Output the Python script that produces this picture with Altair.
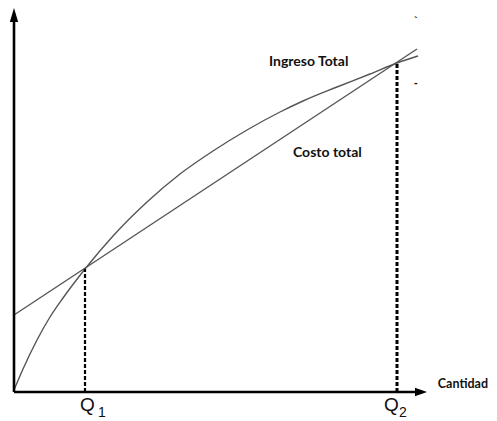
import altair as alt
import pandas as pd

# ---- data (units: quantity / value) ----
rev_q = [0, 9, 23, 36, 49, 71, 99, 133, 166, 199, 233, 266, 289, 323, 356, 383, 404]
rev_v = [2, 23, 52, 75, 94, 123, 156, 190, 218, 241, 262, 280, 291, 305, 318, 329, 336]
cost_q = [0, 403]
cost_v = [77, 343]
q_points = [71, 383]          # Q1, Q2
q_values = [123, 329]         # height of the intersections
q_names = ["Q", "Q"]
q_subs = ["1", "2"]

X_MAX, Y_MAX = 413, 382
xs = alt.Scale(domain=[0, X_MAX], nice=False, zero=False)
ys = alt.Scale(domain=[0, Y_MAX], nice=False, zero=False)

rev_df = pd.DataFrame({"q": rev_q, "v": rev_v})
cost_df = pd.DataFrame({"q": cost_q, "v": cost_v})
one = pd.DataFrame({"a": [0]})

X = lambda f: alt.X(f, type="quantitative", scale=xs, axis=None)
Y = lambda f: alt.Y(f, type="quantitative", scale=ys, axis=None)

revenue = alt.Chart(rev_df).mark_line(color="#555555", strokeWidth=1.4, interpolate="monotone").encode(
    x=X("q"), y=Y("v"))
cost = alt.Chart(cost_df).mark_line(color="#555555", strokeWidth=1.4).encode(x=X("q"), y=Y("v"))

# axes with arrowheads
yaxis = alt.Chart(one).mark_rule(color="black", strokeWidth=2.6).encode(
    x=alt.X(datum=0, scale=xs, axis=None), y=alt.Y(datum=0, scale=ys, axis=None), y2=alt.datum(372))
xaxis = alt.Chart(one).mark_rule(color="black", strokeWidth=2.6).encode(
    y=alt.Y(datum=0, scale=ys, axis=None), x=alt.X(datum=0, scale=xs, axis=None), x2=alt.datum(403))
yarrow = alt.Chart(one).mark_point(shape="M0,-1L0.6,1L-0.6,1Z", filled=True, color="black",
                                   size=196, opacity=1).encode(
    x=alt.X(datum=0, scale=xs, axis=None), y=alt.Y(datum=377, scale=ys, axis=None))
xarrow = alt.Chart(one).mark_point(shape="M1,0L-1,-0.7L-1,0.7Z", filled=True, color="black",
                                   size=144, opacity=1).encode(
    x=alt.X(datum=407, scale=xs, axis=None), y=alt.Y(datum=0, scale=ys, axis=None))

# dashed drop lines
d1 = alt.Chart(one).mark_rule(color="black", strokeWidth=2.2, strokeDash=[4, 2]).encode(
    x=alt.X(datum=q_points[0], scale=xs, axis=None), y=alt.Y(datum=0, scale=ys, axis=None),
    y2=alt.datum(q_values[0]))
d2 = alt.Chart(one).mark_rule(color="black", strokeWidth=3, strokeDash=[4, 2]).encode(
    x=alt.X(datum=q_points[1], scale=xs, axis=None), y=alt.Y(datum=0, scale=ys, axis=None),
    y2=alt.datum(q_values[1]))

def label(txt, x, y, size, font, weight="normal", align="left", baseline="middle"):
    return alt.Chart(one).mark_text(text=txt, font=font, fontSize=size, fontWeight=weight,
                                    color="#111111", align=align, baseline=baseline).encode(
        x=alt.X(datum=x, scale=xs, axis=None), y=alt.Y(datum=y, scale=ys, axis=None))

texts = [
    label("Ingreso Total", 255, 330, 14, "Lato", "bold"),
    label("Costo total", 279, 239, 14, "Lato", "bold"),
    label("Cantidad", 474, 8, 12.5, "Lato", "bold", align="right"),
    label(q_names[0], 66, -19, 19, "Liberation Sans", baseline="alphabetic"),
    label(q_subs[0], 84, -25, 14, "Liberation Sans", baseline="alphabetic"),
    label(q_names[1], 370, -19, 19, "Liberation Sans", baseline="alphabetic"),
    label(q_subs[1], 385, -25, 14, "Liberation Sans", baseline="alphabetic"),
    label("-", 400, 309, 11, "Liberation Sans", "bold"),
    label("`", 400, 371, 11, "Liberation Sans", "bold"),
]

chart = alt.layer(cost, revenue, d1, d2, yaxis, xaxis, yarrow, xarrow, *texts).properties(
    width=X_MAX, height=Y_MAX,
    autosize=alt.AutoSizeParams(type="none"),
    padding={"left": 6, "top": 2, "right": 62, "bottom": 27},
    background="white",
).configure_view(stroke=None)

chart.save("out.html", embed_options={"renderer": "svg", "actions": False})
